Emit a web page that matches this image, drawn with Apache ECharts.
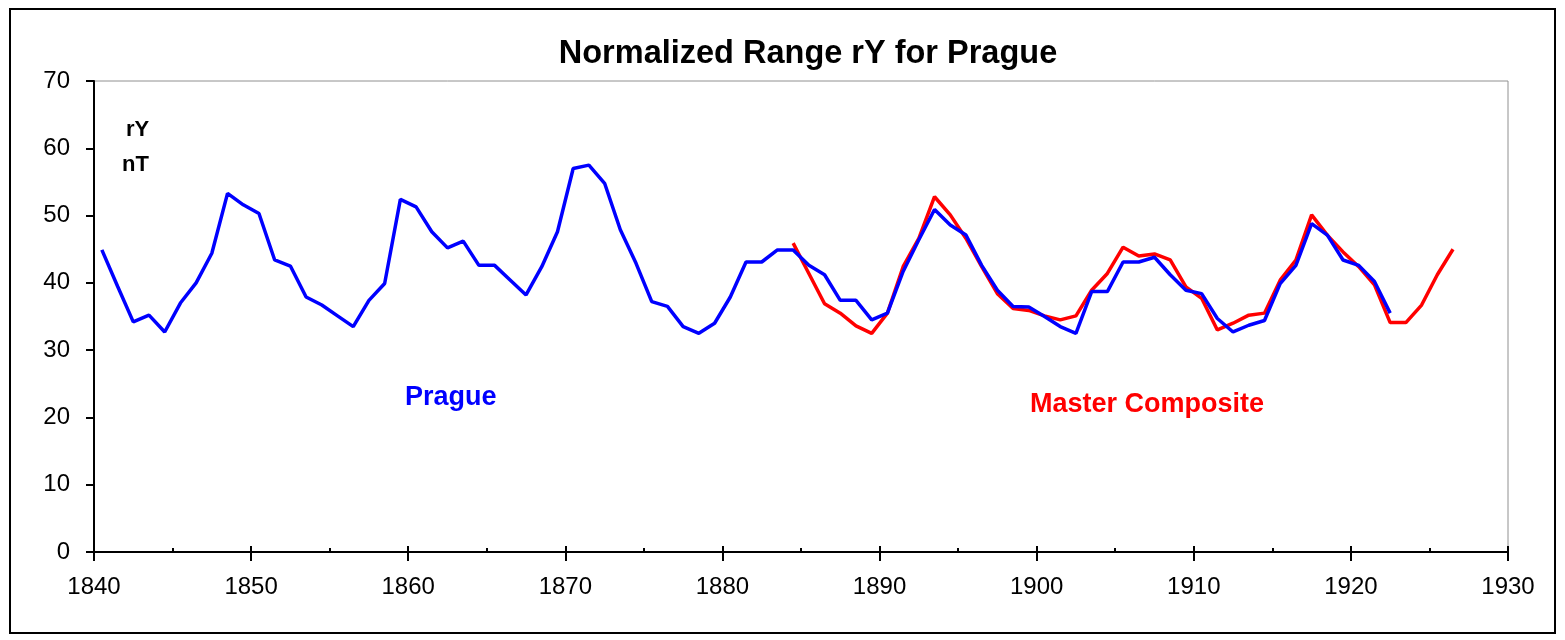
<!DOCTYPE html>
<html>
<head>
<meta charset="utf-8">
<script src="https://cdn.jsdelivr.net/npm/echarts@6/dist/echarts.min.js"></script>
<style>
  html, body { margin: 0; padding: 0; background: #fff; }
  #chart { width: 1565px; height: 640px; }
</style>
</head>
<body>
<div id="chart"></div>
<script>
// yearly values, plotted at mid-year
const pragueStart = 1840
const pragueValues = [
  44.9, 39.5, 34.2, 35.2, 32.7, 37.0, 40.0, 44.4, 53.3, 51.6,
  50.3, 43.4, 42.5, 37.9, 36.7, 35.1, 33.5, 37.4, 39.9, 52.4,
  51.3, 47.6, 45.2, 46.2, 42.6, 42.6, 40.4, 38.2, 42.4, 47.6,
  57.0, 57.5, 54.8, 47.9, 42.9, 37.2, 36.5, 33.5, 32.5, 34.0,
  37.9, 43.1, 43.1, 44.9, 44.9, 42.6, 41.2, 37.4, 37.4, 34.5,
  35.5, 41.7, 46.4, 50.9, 48.6, 47.1, 42.6, 38.9, 36.5, 36.4,
  35.0, 33.5, 32.5, 38.7, 38.7, 43.1, 43.1, 43.8, 41.2, 38.9,
  38.4, 34.7, 32.7, 33.7, 34.4, 39.9, 42.6, 48.8, 47.1, 43.4,
  42.6, 40.2, 35.5
]
const masterStart = 1884
const masterValues = [
  45.9, 41.4, 36.9, 35.5, 33.6, 32.5, 35.5, 42.4, 46.6, 52.8,
  50.1, 46.6, 42.4, 38.4, 36.2, 35.9, 35.1, 34.5, 35.1, 38.9,
  41.4, 45.3, 44.0, 44.3, 43.4, 39.4, 37.7, 33.0, 34.0, 35.2,
  35.5, 40.4, 43.4, 50.1, 47.1, 44.6, 42.4, 39.7, 34.1, 34.1,
  36.7, 41.2, 45.0
]
const titleText = 'Normalized Range rY for Prague'

function toPairs (start, values) {
  return values.map((v, i) => [start + i + 0.5, v])
}

const chart = echarts.init(document.getElementById('chart'))
const fontFam = 'Liberation Sans, Arial, sans-serif'
const labelFont = { fontFamily: fontFam, fontSize: 24, color: '#000' }

chart.setOption({
  animation: false,
  backgroundColor: '#fff',
  title: {
    text: titleText,
    left: 803,
    textAlign: 'center',
    top: 33,
    textStyle: { fontFamily: fontFam, fontSize: 32.5, fontWeight: 'bold', color: '#000' }
  },
  grid: {
    left: 94,
    right: 57,
    top: 81,
    bottom: 88,
    show: true,
    borderColor: '#909090',
    borderWidth: 1
  },
  xAxis: [{
    type: 'value',
    min: 1840,
    max: 1930,
    interval: 10,
    position: 'bottom',
    axisLine: { lineStyle: { color: '#000', width: 2 } },
    axisTick: { inside: false, length: 9, lineStyle: { color: '#000', width: 2 } },
    axisLabel: { ...labelFont, margin: 23, formatter: (v) => String(v) },
    splitLine: { show: false }
  }, {
    type: 'value',
    min: 1840,
    max: 1930,
    interval: 10,
    position: 'bottom',
    axisLine: { show: false },
    axisTick: { inside: true, length: 6, lineStyle: { color: '#000', width: 2 } },
    minorTick: { show: true, splitNumber: 2, length: 4, lineStyle: { color: '#000', width: 2 } },
    axisLabel: { show: false },
    splitLine: { show: false }
  }],
  yAxis: {
    type: 'value',
    min: 0,
    max: 70,
    interval: 10,
    axisLine: { show: true, lineStyle: { color: '#000', width: 2 } },
    axisTick: { show: true, inside: false, length: 8, lineStyle: { color: '#000', width: 2 } },
    axisLabel: { ...labelFont, margin: 24 },
    splitLine: { show: false }
  },
  graphic: [
    {
      type: 'rect',
      shape: { x: 10, y: 9, width: 1545, height: 624 },
      style: { fill: null, stroke: '#000', lineWidth: 2 },
      silent: true,
      z: -10
    },
    {
      type: 'text', left: 126, top: 119,
      style: { text: 'rY', font: 'bold 22px ' + fontFam, fill: '#000' }
    },
    {
      type: 'text', left: 122, top: 154,
      style: { text: 'nT', font: 'bold 22px ' + fontFam, fill: '#000' }
    },
    {
      type: 'text', left: 405, top: 384,
      style: { text: 'Prague', font: 'bold 27px ' + fontFam, fill: '#0000ff' }
    },
    {
      type: 'text', left: 1030, top: 391,
      style: { text: 'Master Composite', font: 'bold 27px ' + fontFam, fill: '#ff0000' }
    }
  ],
  series: [
    {
      name: 'Master Composite',
      type: 'line',
      data: toPairs(masterStart, masterValues),
      showSymbol: false,
      lineStyle: { color: '#ff0000', width: 3.5 },
      z: 2
    },
    {
      name: 'Prague',
      type: 'line',
      data: toPairs(pragueStart, pragueValues),
      showSymbol: false,
      lineStyle: { color: '#0000ff', width: 3.5 },
      z: 3
    }
  ]
})
</script>
</body>
</html>
